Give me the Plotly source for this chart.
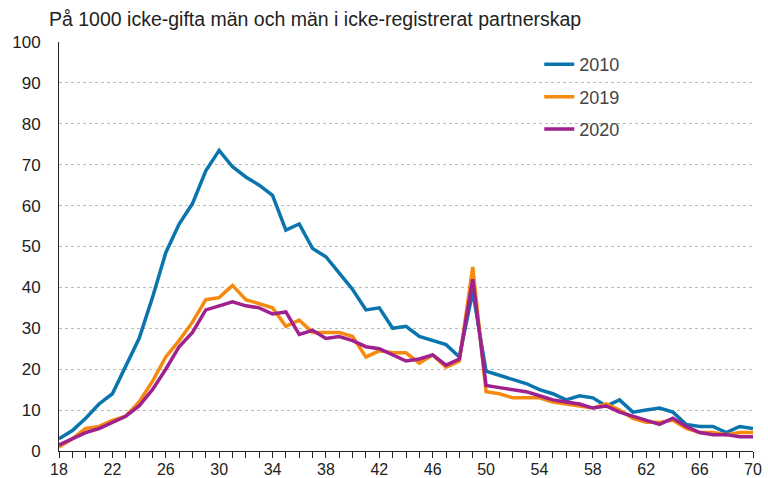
import plotly.graph_objects as go

ages = list(range(18, 71))

y2010 = [3, 5, 8, 11.5, 14, 21, 27.5, 37.5, 48.5, 55.5, 60.5, 68.5, 73.5, 69.5, 67, 65, 62.5, 54, 55.5, 49.5,
         47.5, 43.5, 39.5, 34.5, 35, 30, 30.5, 28, 27, 26, 23, 39, 19.5, 18.5, 17.5, 16.5, 15, 14, 12.5, 13.5,
         13, 11, 12.5, 9.5, 10, 10.5, 9.5, 6.5, 6, 6, 4.5, 6, 5.5]
y2019 = [1, 3, 5.5, 6, 7.5, 8.5, 12, 17, 23, 27, 31.5, 37, 37.5, 40.5, 37, 36, 35, 30.5, 32, 29,
         29, 29, 28, 23, 24.5, 24, 24, 21.5, 23.5, 20.5, 22, 45, 14.5, 14, 13, 13, 13, 12, 11.5, 11,
         10.5, 11.5, 10, 8, 7, 7, 7.5, 5.5, 4.5, 4.5, 4, 4.5, 4.5]
y2020 = [1.5, 3, 4.5, 5.5, 7, 8.5, 11, 15, 20, 25.5, 29, 34.5, 35.5, 36.5, 35.5, 35, 33.5, 34, 28.5, 29.5,
         27.5, 28, 27, 25.5, 25, 23.5, 22, 22.5, 23.5, 21, 22.5, 42, 16, 15.5, 15, 14.5, 13.5, 12.5, 12, 11.5,
         10.5, 11, 9.5, 8.5, 7.5, 6.5, 8, 6, 4.5, 4, 4, 3.5, 3.5]

series = [("2010", y2010, "#0A75AD"), ("2019", y2019, "#F58A0F"), ("2020", y2020, "#A0208E")]

x_ticks = list(range(18, 71, 4))
y_ticks = list(range(0, 101, 10))
title = "På 1000 icke-gifta män och män i icke-registrerat partnerskap"

fig = go.Figure()
for i, (name, vals, col) in enumerate(series):
    fig.add_trace(go.Scatter(x=ages, y=vals, mode="lines", name=name,
                             legendgroup=f"g{i}",
                             line=dict(color=col, width=3.5)))

FAM = "Liberation Sans, Arial, sans-serif"
tfont = dict(family=FAM, size=17, color="#222")
xfont = dict(family=FAM, size=16, color="#222")

fig.update_layout(
    width=768, height=478,
    margin=dict(l=59, r=15, t=42, b=27),
    paper_bgcolor="white", plot_bgcolor="white",
    font=tfont,
    showlegend=True,
    legend=dict(x=0.692, y=0.99, xanchor="left", yanchor="top",
                bgcolor="rgba(0,0,0,0)", tracegroupgap=6,
                font=dict(family=FAM, size=18, color="#444")),
    annotations=[dict(text=title, xref="paper", yref="paper", x=-0.018, y=1.0,
                      xanchor="left", yanchor="bottom", yshift=10, showarrow=False,
                      font=dict(family=FAM, size=19.5, color="#222"))],
)
fig.update_xaxes(range=[18, 70], tickvals=x_ticks, ticktext=[str(t) for t in x_ticks],
                 showgrid=False, showline=True, linecolor="#222", linewidth=1,
                 ticks="outside", ticklen=6, tickcolor="#222",
                 minor=dict(ticks="outside", ticklen=6, tickcolor="#222", dtick=1, showgrid=False),
                 zeroline=False, tickfont=xfont, ticklabelstandoff=-2, automargin=False)
fig.update_yaxes(range=[0, 100], tickvals=y_ticks, showgrid=True, gridcolor="#BBBBBB",
                 griddash="dot", gridwidth=1, showline=True, linecolor="#222", linewidth=1,
                 zeroline=False, ticks="", tickfont=tfont, ticklabelstandoff=14, automargin=False)

fig.write_html("out.html", config={"displayModeBar": False},
               post_script="document.body.style.margin='0';")
